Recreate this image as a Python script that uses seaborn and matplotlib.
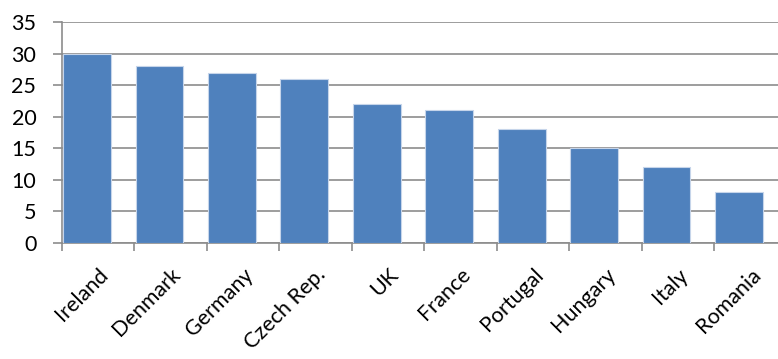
import matplotlib
matplotlib.use("Agg")
import matplotlib.pyplot as plt
import seaborn as sns
import pandas as pd
import numpy as np

countries = ["Ireland", "Denmark", "Germany", "Czech Rep.", "UK", "France",
             "Portugal", "Hungary", "Italy", "Romania"]
values = [30, 28, 27, 26, 22, 21, 18, 15, 12, 8]
yticks = [0, 5, 10, 15, 20, 25, 30, 35]

sns.set_style("white")
plt.rcParams["font.family"] = ["Lato", "DejaVu Sans"]

df = pd.DataFrame({"country": countries, "value": values})

fig = plt.figure(figsize=(7.78, 3.59), dpi=100)
W, H = 778, 359
left, right, top, bottom = 62, 786.4, 22, 243
ax = fig.add_axes([left / W, (H - bottom) / H, (right - left) / W, (bottom - top) / H])

sns.barplot(data=df, x="country", y="value", ax=ax, color="#4F81BD",
            saturation=1, width=0.66, edgecolor="#C6D5EA", linewidth=0.8, zorder=3)

n = len(countries)
off = 0.345
ax.set_xlim(-off, n - off)
ax.set_ylim(0, 35)
ax.set_yticks(yticks)
ax.set_yticklabels([str(v) for v in yticks], fontsize=15.5)
ax.yaxis.grid(True, color="#8C8C8C", linewidth=1.2, zorder=0)
ax.set_axisbelow(True)
ax.set_xlabel("")
ax.set_ylabel("")

for s in ["top", "right"]:
    ax.spines[s].set_visible(False)
for s in ["left", "bottom"]:
    ax.spines[s].set_color("#8C8C8C")
    ax.spines[s].set_linewidth(1.2)

ax.tick_params(axis="y", which="major", left=True, length=6.5, width=1.2,
               color="#8C8C8C", pad=12, labelcolor="black")
# category boundary ticks on x
ax.set_xticks(np.arange(n) - off, minor=True)
ax.tick_params(axis="x", which="minor", bottom=True, length=6, width=1.2, color="#8C8C8C")
ax.set_xticks(np.arange(n) - off + 0.5)
ax.set_xticklabels(countries, fontsize=15.5, rotation=45, ha="right", va="top",
                   rotation_mode="anchor")
ax.tick_params(axis="x", which="major", bottom=False, pad=12, labelcolor="black")

fig.savefig("out.png", dpi=100)
